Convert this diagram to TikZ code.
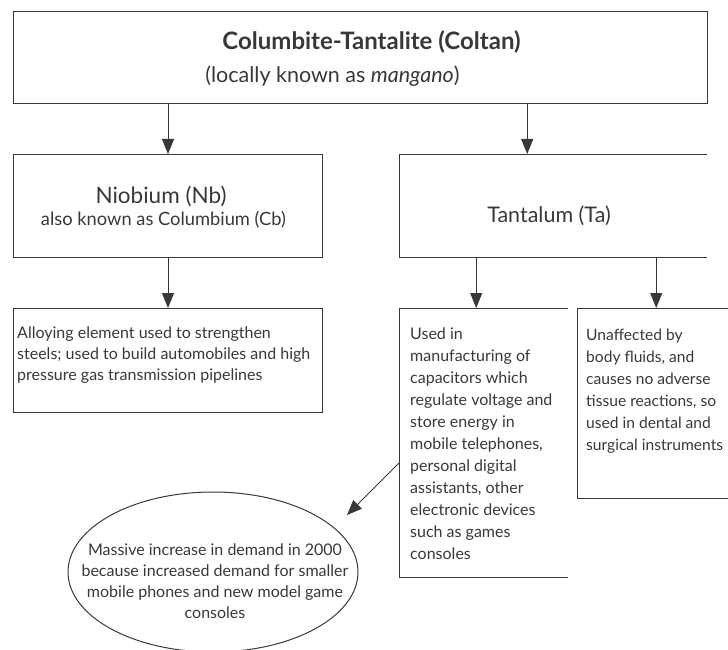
\documentclass[tikz,border=0pt]{standalone}
\usepackage{fontspec}
\setmainfont{Lato}
\usetikzlibrary{arrows.meta,shapes.geometric,positioning}
\definecolor{ink}{HTML}{383838}

\tikzset{
  frame/.style={draw=ink, line width=1pt, inner sep=0pt, anchor=north west},
  openbox/.style={inner sep=0pt, anchor=north west},
  edge/.style={draw=ink, line width=1pt},
  txt/.style={text=ink, inner sep=0pt, align=left, font=\fontsize{16}{22}\selectfont},
  arr/.style={draw=ink, line width=1pt, -{Triangle[length=15pt,width=12pt]}},
}

\begin{document}
\begin{tikzpicture}[x=1pt,y=-1pt]
\useasboundingbox (0,0) rectangle (728,650);

% frames
\node[frame, minimum width=694, minimum height=92] (ore) at (13,11) {};
\node[frame, minimum width=309, minimum height=103] (nb) at (13,154) {};
\node[openbox, minimum width=308, minimum height=103] (ta) at (399,154) {};
\node[frame, minimum width=309, minimum height=104] (alloy) at (13,308) {};
\node[openbox, minimum width=169, minimum height=269] (cap) at (399,308) {};
\node[openbox, minimum width=158, minimum height=190] (bio) at (577,308) {};
\node[draw=ink, line width=1pt, ellipse, inner sep=0pt, minimum width=290, minimum height=160] (demand) at (213,572) {};

% open sides
\draw[edge] (ta.north east) -- (ta.north west) -- (ta.south west) -- (ta.south east);
\draw[edge] (cap.north east) -- (cap.north west) -- (cap.south west) -- (cap.south east);
\draw[edge] ([xshift=151pt]bio.north west) -- (bio.north west) -- (bio.south west) -- ([xshift=151pt]bio.south west);

% texts
\node[txt, anchor=base] (oretitle) at (371.5,49.5) {\fontsize{24}{26}\selectfont\bfseries Columbite-Tantalite (Coltan)};
\node[txt, anchor=base] (oresub) at (332.5,83) {\fontsize{21.5}{24}\selectfont (locally known as \textit{mangano})};
\node[txt, anchor=base] (nbname) at (161,203) {\fontsize{22.5}{24}\selectfont Niobium (Nb)};
\node[txt, anchor=base] (nbalias) at (163.5,225) {\fontsize{18.3}{22}\selectfont also known as Columbium (Cb)};
\node[txt, anchor=base] (taname) at (549,222) {\fontsize{21.5}{24}\selectfont Tantalum (Ta)};
\node[txt, anchor=north west, font=\fontsize{16}{21}\selectfont] (alloytxt) at (17,326.2) {Alloying element used to strengthen\\
  steels; used to build automobiles and high\\ pressure gas transmission pipelines};
\node[txt, anchor=north west] (captxt) at (410,327.2) {Used in\\ manufacturing of\\ capacitors which\\
  regulate voltage and\\ store energy in\\ mobile telephones,\\ personal digital\\
  assistants, other\\ electronic devices\\ such as games\\ consoles};
\node[txt, anchor=north west, font=\fontsize{15.6}{22}\selectfont] (biotxt) at (586,328.4) {Unaffected by\\ body fluids, and\\
  causes no adverse\\ tissue reactions, so\\ used in dental and\\ surgical instruments};
\node[txt, align=center, anchor=north, font=\fontsize{16}{21}\selectfont] (demandtxt) at (215,543.2)
  {Massive increase in demand in 2000\\ because increased demand for smaller\\
  mobile phones and new model game\\ consoles};

% connectors
\coordinate (capout) at ([yshift=-155pt]cap.north west);
\coordinate (demandtip) at (347,515);
\draw[arr] (ore.south -| nb.north) -- (nb.north);
\draw[arr] ([xshift=-26pt]ta.north |- ore.south) -- ([xshift=-26pt]ta.north);
\draw[arr] (nb.south) -- (alloy.north);
\draw[arr] ([xshift=-7.5pt]cap.north |- ta.south) -- ([xshift=-7.5pt]cap.north);
\draw[arr] (bio.north |- ta.south) -- (bio.north);
\draw[arr] (capout) -- (demandtip);
\end{tikzpicture}
\end{document}
